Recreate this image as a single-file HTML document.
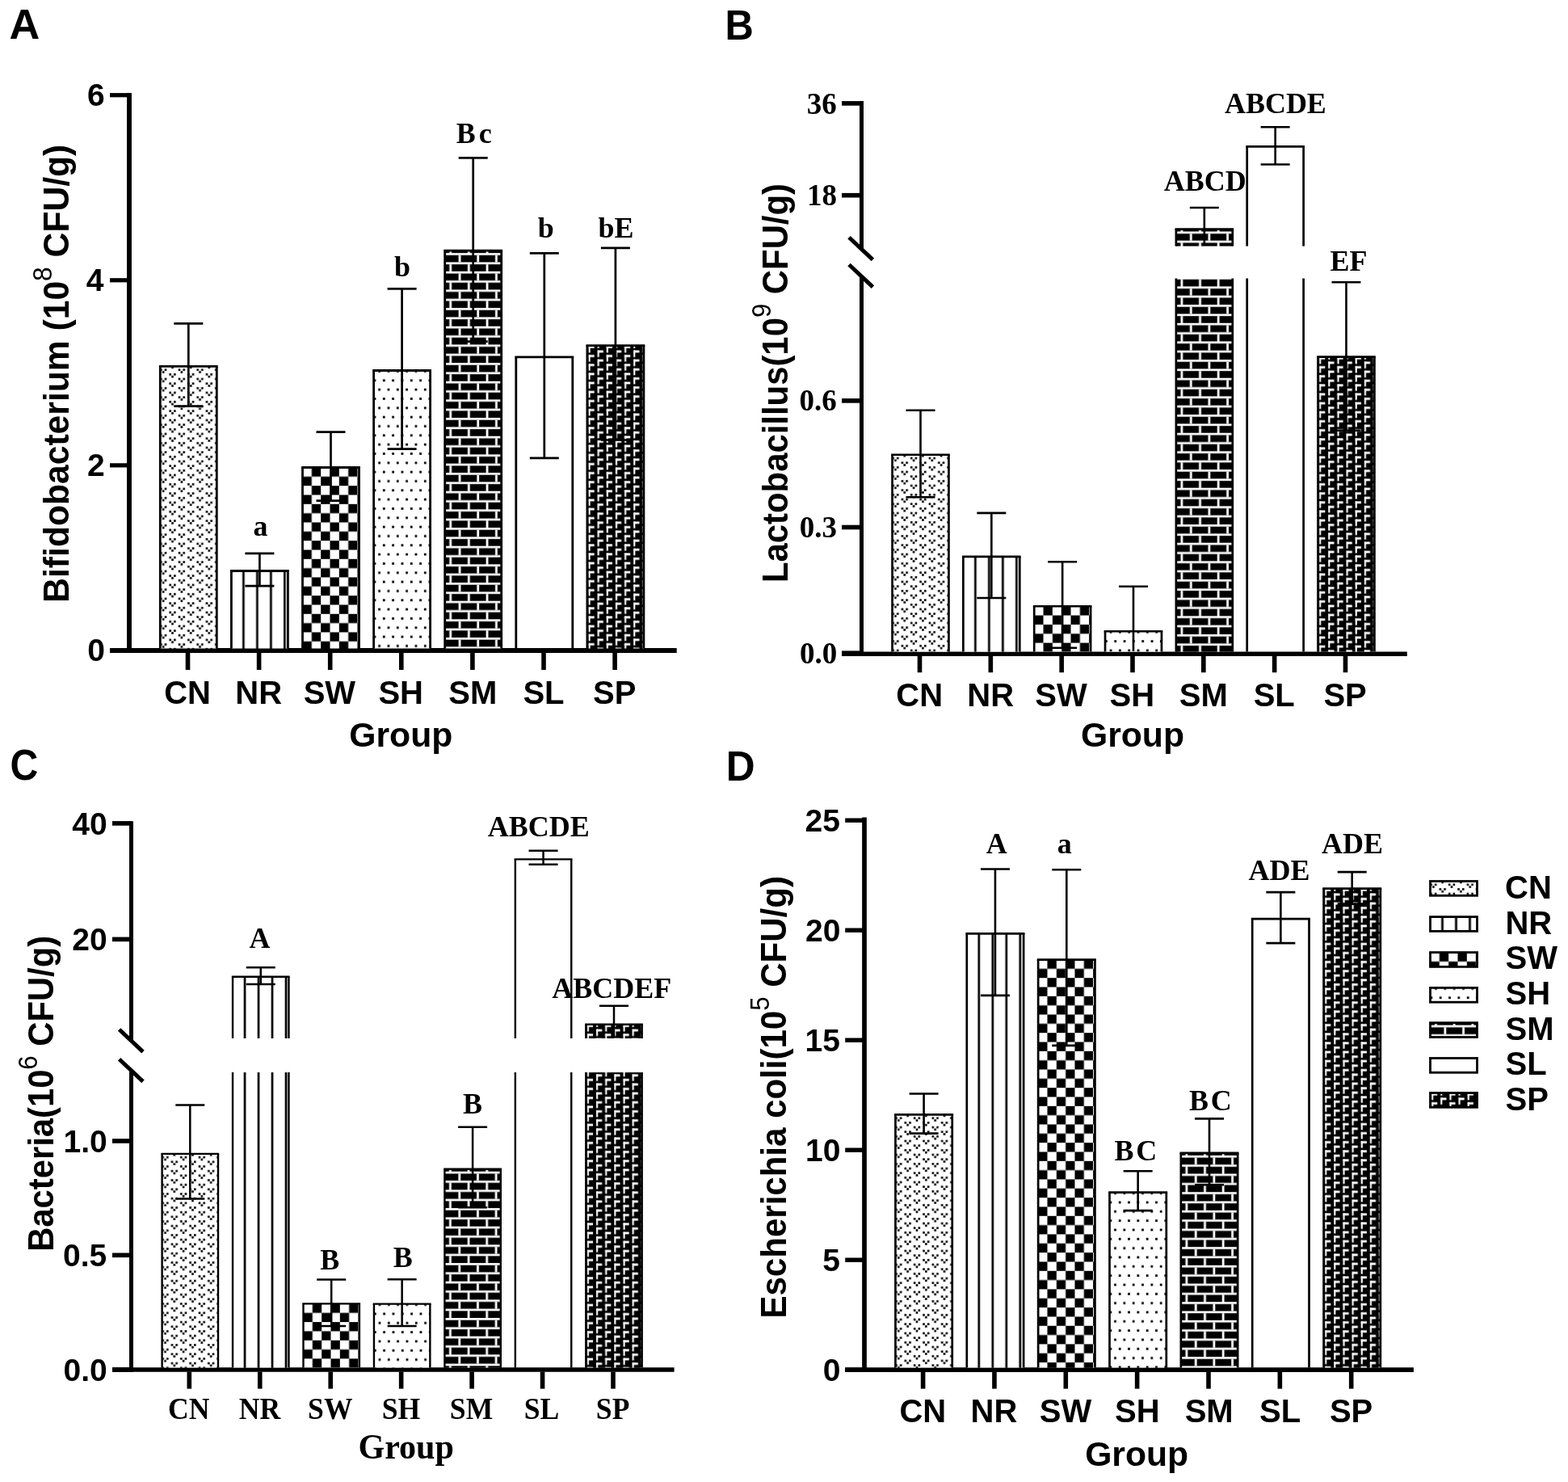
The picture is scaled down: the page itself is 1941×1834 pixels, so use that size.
<!DOCTYPE html><html><head><meta charset='utf-8'><title>Figure</title><style>html,body{margin:0;padding:0;background:#fff;}svg{display:block;}</style></head><body><svg width='1941' height='1834' viewBox='0 0 1941 1834'><defs><pattern id='pCN' patternUnits='userSpaceOnUse' width='22.66' height='11.33'><rect width='22.66' height='11.33' fill='#fff'/><rect x='2.6' y='5.8' width='2.6' height='2.6' fill='#000'/><rect x='-0.23' y='2.97' width='2.6' height='2.6' fill='#000'/><rect x='22.43' y='2.97' width='2.6' height='2.6' fill='#000'/><rect x='5.43' y='2.97' width='2.6' height='2.6' fill='#000'/><rect x='13.93' y='0.13' width='2.6' height='2.6' fill='#000'/><rect x='11.1' y='8.63' width='2.6' height='2.6' fill='#000'/><rect x='16.77' y='8.63' width='2.6' height='2.6' fill='#000'/></pattern><pattern id='pSH' patternUnits='userSpaceOnUse' width='11.33' height='22.66'><rect width='11.33' height='22.66' fill='#fff'/><rect x='5.6' y='-0.4' width='2.8' height='2.8' fill='#000'/><rect x='5.6' y='22.26' width='2.8' height='2.8' fill='#000'/><rect x='-0.07' y='10.93' width='2.8' height='2.8' fill='#000'/><rect x='11.27' y='10.93' width='2.8' height='2.8' fill='#000'/></pattern><pattern id='pSW' patternUnits='userSpaceOnUse' width='22.66' height='22.66'><rect width='22.66' height='22.66' fill='#fff'/><rect x='11.33' y='0' width='11.33' height='11.33' fill='#000'/><rect x='0' y='11.33' width='11.33' height='11.33' fill='#000'/></pattern><pattern id='pSM' patternUnits='userSpaceOnUse' width='22.66' height='22.66'><rect width='22.66' height='22.66' fill='#000'/><rect x='0' y='2.9' width='22.66' height='2.7' fill='#fff'/><rect x='0' y='14.23' width='22.66' height='2.7' fill='#fff'/><rect x='17' y='5.6' width='2.8' height='8.63' fill='#fff'/><rect x='5.6' y='-5.73' width='2.8' height='8.63' fill='#fff'/><rect x='5.6' y='16.93' width='2.8' height='8.63' fill='#fff'/></pattern><pattern id='pSP' patternUnits='userSpaceOnUse' width='22.3' height='11.15'><rect width='22.3' height='11.15' fill='#000'/><rect x='1.6' y='0.4' width='7.2' height='2.8' fill='#fff'/><rect x='1.6' y='0.4' width='2.1' height='8.4' fill='#fff'/><rect x='12.75' y='5.98' width='7.2' height='2.8' fill='#fff'/><rect x='12.75' y='-5.17' width='2.1' height='8.4' fill='#fff'/><rect x='12.75' y='5.98' width='2.1' height='8.4' fill='#fff'/></pattern><pattern id='pNR' patternUnits='userSpaceOnUse' width='17' height='20'><rect width='17' height='20' fill='#fff'/><rect x='13.65' y='0' width='2.7' height='20' fill='#000'/></pattern><pattern id='pNRt' patternUnits='userSpaceOnUse' width='17' height='20'><rect width='17' height='20' fill='#fff'/><rect x='13.9' y='0' width='2.2' height='20' fill='#000'/></pattern><pattern id='pNRl' patternUnits='userSpaceOnUse' width='17' height='20'><rect width='17' height='20' fill='#fff'/><rect x='13.6' y='0' width='2.8' height='20' fill='#000'/></pattern></defs><rect width='1941' height='1834' fill='#fff'/><line x1='160' y1='115.1' x2='160' y2='808' stroke='#000' stroke-width='5.9' stroke-linecap='butt'/>
<line x1='136' y1='804.9' x2='160' y2='804.9' stroke='#000' stroke-width='5.2' stroke-linecap='butt'/>
<line x1='136' y1='575.84' x2='160' y2='575.84' stroke='#000' stroke-width='5.2' stroke-linecap='butt'/>
<line x1='136' y1='346.78' x2='160' y2='346.78' stroke='#000' stroke-width='5.2' stroke-linecap='butt'/>
<line x1='136' y1='117.72' x2='160' y2='117.72' stroke='#000' stroke-width='5.2' stroke-linecap='butt'/>
<line x1='136' y1='805' x2='837.7' y2='805' stroke='#000' stroke-width='5.8' stroke-linecap='butt'/>
<g transform='translate(198.3,453.4)'><rect x='0' y='0' width='70' height='349.1' fill='url(#pCN)'/></g>
<line x1='198.3' y1='453.4' x2='198.3' y2='802.5' stroke='#000' stroke-width='2.8' stroke-linecap='butt'/>
<line x1='268.3' y1='453.4' x2='268.3' y2='802.5' stroke='#000' stroke-width='2.8' stroke-linecap='butt'/>
<line x1='196.9' y1='453.4' x2='269.7' y2='453.4' stroke='#000' stroke-width='2.8' stroke-linecap='butt'/>
<g transform='translate(286.4,706.5)'><rect x='0' y='0' width='70' height='96' fill='url(#pNR)'/></g>
<line x1='286.4' y1='706.5' x2='286.4' y2='802.5' stroke='#000' stroke-width='2.8' stroke-linecap='butt'/>
<line x1='356.4' y1='706.5' x2='356.4' y2='802.5' stroke='#000' stroke-width='2.8' stroke-linecap='butt'/>
<line x1='285' y1='706.5' x2='357.8' y2='706.5' stroke='#000' stroke-width='2.8' stroke-linecap='butt'/>
<g transform='translate(374.5,578.5)'><rect x='0' y='0' width='70' height='224' fill='url(#pSW)'/></g>
<line x1='374.5' y1='578.5' x2='374.5' y2='802.5' stroke='#000' stroke-width='2.8' stroke-linecap='butt'/>
<line x1='444.5' y1='578.5' x2='444.5' y2='802.5' stroke='#000' stroke-width='2.8' stroke-linecap='butt'/>
<line x1='373.1' y1='578.5' x2='445.9' y2='578.5' stroke='#000' stroke-width='2.8' stroke-linecap='butt'/>
<g transform='translate(462.6,458.5)'><rect x='0' y='0' width='70' height='344' fill='url(#pSH)'/></g>
<line x1='462.6' y1='458.5' x2='462.6' y2='802.5' stroke='#000' stroke-width='2.8' stroke-linecap='butt'/>
<line x1='532.6' y1='458.5' x2='532.6' y2='802.5' stroke='#000' stroke-width='2.8' stroke-linecap='butt'/>
<line x1='461.2' y1='458.5' x2='534' y2='458.5' stroke='#000' stroke-width='2.8' stroke-linecap='butt'/>
<g transform='translate(550.7,310.2)'><rect x='0' y='0' width='70' height='492.3' fill='url(#pSM)'/></g>
<line x1='550.7' y1='310.2' x2='550.7' y2='802.5' stroke='#000' stroke-width='2.8' stroke-linecap='butt'/>
<line x1='620.7' y1='310.2' x2='620.7' y2='802.5' stroke='#000' stroke-width='2.8' stroke-linecap='butt'/>
<line x1='549.3' y1='310.2' x2='622.1' y2='310.2' stroke='#000' stroke-width='2.8' stroke-linecap='butt'/>
<line x1='638.8' y1='441.8' x2='638.8' y2='802.5' stroke='#000' stroke-width='2.8' stroke-linecap='butt'/>
<line x1='708.8' y1='441.8' x2='708.8' y2='802.5' stroke='#000' stroke-width='2.8' stroke-linecap='butt'/>
<line x1='637.4' y1='441.8' x2='710.2' y2='441.8' stroke='#000' stroke-width='2.8' stroke-linecap='butt'/>
<g transform='translate(726.9,427.6)'><rect x='0' y='0' width='70' height='374.9' fill='url(#pSP)'/></g>
<line x1='726.9' y1='427.6' x2='726.9' y2='802.5' stroke='#000' stroke-width='2.8' stroke-linecap='butt'/>
<line x1='796.9' y1='427.6' x2='796.9' y2='802.5' stroke='#000' stroke-width='2.8' stroke-linecap='butt'/>
<line x1='725.5' y1='427.6' x2='798.3' y2='427.6' stroke='#000' stroke-width='2.8' stroke-linecap='butt'/>
<line x1='233.3' y1='400.4' x2='233.3' y2='502.7' stroke='#000' stroke-width='2.7' stroke-linecap='butt'/>
<line x1='215.3' y1='400.4' x2='251.3' y2='400.4' stroke='#000' stroke-width='2.7' stroke-linecap='butt'/>
<line x1='215.3' y1='502.7' x2='251.3' y2='502.7' stroke='#000' stroke-width='2.7' stroke-linecap='butt'/>
<line x1='321.4' y1='684.9' x2='321.4' y2='725.2' stroke='#000' stroke-width='2.7' stroke-linecap='butt'/>
<line x1='303.4' y1='684.9' x2='339.4' y2='684.9' stroke='#000' stroke-width='2.7' stroke-linecap='butt'/>
<line x1='303.4' y1='725.2' x2='339.4' y2='725.2' stroke='#000' stroke-width='2.7' stroke-linecap='butt'/>
<line x1='409.5' y1='534.6' x2='409.5' y2='619.7' stroke='#000' stroke-width='2.7' stroke-linecap='butt'/>
<line x1='391.5' y1='534.6' x2='427.5' y2='534.6' stroke='#000' stroke-width='2.7' stroke-linecap='butt'/>
<line x1='391.5' y1='619.7' x2='427.5' y2='619.7' stroke='#000' stroke-width='2.7' stroke-linecap='butt'/>
<line x1='497.6' y1='357.3' x2='497.6' y2='555.6' stroke='#000' stroke-width='2.7' stroke-linecap='butt'/>
<line x1='479.6' y1='357.3' x2='515.6' y2='357.3' stroke='#000' stroke-width='2.7' stroke-linecap='butt'/>
<line x1='479.6' y1='555.6' x2='515.6' y2='555.6' stroke='#000' stroke-width='2.7' stroke-linecap='butt'/>
<line x1='585.7' y1='195.4' x2='585.7' y2='422.7' stroke='#000' stroke-width='2.7' stroke-linecap='butt'/>
<line x1='567.7' y1='195.4' x2='603.7' y2='195.4' stroke='#000' stroke-width='2.7' stroke-linecap='butt'/>
<line x1='567.7' y1='422.7' x2='603.7' y2='422.7' stroke='#000' stroke-width='2.7' stroke-linecap='butt'/>
<line x1='673.8' y1='313.3' x2='673.8' y2='566.8' stroke='#000' stroke-width='2.7' stroke-linecap='butt'/>
<line x1='655.8' y1='313.3' x2='691.8' y2='313.3' stroke='#000' stroke-width='2.7' stroke-linecap='butt'/>
<line x1='655.8' y1='566.8' x2='691.8' y2='566.8' stroke='#000' stroke-width='2.7' stroke-linecap='butt'/>
<line x1='761.9' y1='306.9' x2='761.9' y2='544.5' stroke='#000' stroke-width='2.7' stroke-linecap='butt'/>
<line x1='743.9' y1='306.9' x2='779.9' y2='306.9' stroke='#000' stroke-width='2.7' stroke-linecap='butt'/>
<line x1='743.9' y1='544.5' x2='779.9' y2='544.5' stroke='#000' stroke-width='2.7' stroke-linecap='butt'/>
<line x1='232.5' y1='807' x2='232.5' y2='829' stroke='#000' stroke-width='5.6' stroke-linecap='butt'/>
<line x1='320.6' y1='807' x2='320.6' y2='829' stroke='#000' stroke-width='5.6' stroke-linecap='butt'/>
<line x1='408.7' y1='807' x2='408.7' y2='829' stroke='#000' stroke-width='5.6' stroke-linecap='butt'/>
<line x1='496.8' y1='807' x2='496.8' y2='829' stroke='#000' stroke-width='5.6' stroke-linecap='butt'/>
<line x1='584.9' y1='807' x2='584.9' y2='829' stroke='#000' stroke-width='5.6' stroke-linecap='butt'/>
<line x1='673' y1='807' x2='673' y2='829' stroke='#000' stroke-width='5.6' stroke-linecap='butt'/>
<line x1='761.1' y1='807' x2='761.1' y2='829' stroke='#000' stroke-width='5.6' stroke-linecap='butt'/>
<line x1='1066.5' y1='124.9' x2='1066.5' y2='307.6' stroke='#000' stroke-width='5' stroke-linecap='butt'/>
<line x1='1066.5' y1='341.3' x2='1066.5' y2='811.5' stroke='#000' stroke-width='5' stroke-linecap='butt'/>
<line x1='1042' y1='127.9' x2='1066.5' y2='127.9' stroke='#000' stroke-width='5.6' stroke-linecap='butt'/>
<line x1='1042' y1='241.7' x2='1066.5' y2='241.7' stroke='#000' stroke-width='5.6' stroke-linecap='butt'/>
<line x1='1042' y1='495.9' x2='1066.5' y2='495.9' stroke='#000' stroke-width='5.6' stroke-linecap='butt'/>
<line x1='1042' y1='652.5' x2='1066.5' y2='652.5' stroke='#000' stroke-width='5.6' stroke-linecap='butt'/>
<line x1='1042' y1='808.2' x2='1066.5' y2='808.2' stroke='#000' stroke-width='5.6' stroke-linecap='butt'/>
<line x1='1051' y1='293.8' x2='1080.4' y2='321.4' stroke='#000' stroke-width='5' stroke-linecap='butt'/>
<line x1='1051' y1='327.5' x2='1080.4' y2='355.1' stroke='#000' stroke-width='5' stroke-linecap='butt'/>
<line x1='1042' y1='809.2' x2='1741.8' y2='809.2' stroke='#000' stroke-width='5.6' stroke-linecap='butt'/>
<g transform='translate(1104.55,562.75)'><rect x='0' y='0' width='69.9' height='243.75' fill='url(#pCN)'/></g>
<line x1='1104.55' y1='562.75' x2='1104.55' y2='806.5' stroke='#000' stroke-width='2.7' stroke-linecap='butt'/>
<line x1='1174.45' y1='562.75' x2='1174.45' y2='806.5' stroke='#000' stroke-width='2.7' stroke-linecap='butt'/>
<line x1='1103.2' y1='562.75' x2='1175.8' y2='562.75' stroke='#000' stroke-width='2.7' stroke-linecap='butt'/>
<g transform='translate(1192.38,688.95)'><rect x='0' y='0' width='69.9' height='117.55' fill='url(#pNR)'/></g>
<line x1='1192.38' y1='688.95' x2='1192.38' y2='806.5' stroke='#000' stroke-width='2.7' stroke-linecap='butt'/>
<line x1='1262.28' y1='688.95' x2='1262.28' y2='806.5' stroke='#000' stroke-width='2.7' stroke-linecap='butt'/>
<line x1='1191.03' y1='688.95' x2='1263.63' y2='688.95' stroke='#000' stroke-width='2.7' stroke-linecap='butt'/>
<g transform='translate(1280.21,750.25)'><rect x='0' y='0' width='69.9' height='56.25' fill='url(#pSW)'/></g>
<line x1='1280.21' y1='750.25' x2='1280.21' y2='806.5' stroke='#000' stroke-width='2.7' stroke-linecap='butt'/>
<line x1='1350.11' y1='750.25' x2='1350.11' y2='806.5' stroke='#000' stroke-width='2.7' stroke-linecap='butt'/>
<line x1='1278.86' y1='750.25' x2='1351.46' y2='750.25' stroke='#000' stroke-width='2.7' stroke-linecap='butt'/>
<g transform='translate(1368.04,781.25)'><rect x='0' y='0' width='69.9' height='25.25' fill='url(#pSH)'/></g>
<line x1='1368.04' y1='781.25' x2='1368.04' y2='806.5' stroke='#000' stroke-width='2.7' stroke-linecap='butt'/>
<line x1='1437.94' y1='781.25' x2='1437.94' y2='806.5' stroke='#000' stroke-width='2.7' stroke-linecap='butt'/>
<line x1='1366.69' y1='781.25' x2='1439.29' y2='781.25' stroke='#000' stroke-width='2.7' stroke-linecap='butt'/>
<g transform='translate(1455.87,283.55)'><rect x='0' y='0' width='69.9' height='21.05' fill='url(#pSM)'/></g>
<line x1='1455.87' y1='283.55' x2='1455.87' y2='304.6' stroke='#000' stroke-width='2.7' stroke-linecap='butt'/>
<line x1='1525.77' y1='283.55' x2='1525.77' y2='304.6' stroke='#000' stroke-width='2.7' stroke-linecap='butt'/>
<line x1='1454.52' y1='283.55' x2='1527.12' y2='283.55' stroke='#000' stroke-width='2.7' stroke-linecap='butt'/>
<g transform='translate(1455.87,283.55)'><rect x='0' y='60.85' width='69.9' height='462.1' fill='url(#pSM)'/></g>
<line x1='1455.87' y1='344.4' x2='1455.87' y2='806.5' stroke='#000' stroke-width='2.7' stroke-linecap='butt'/>
<line x1='1525.77' y1='344.4' x2='1525.77' y2='806.5' stroke='#000' stroke-width='2.7' stroke-linecap='butt'/>
<line x1='1543.7' y1='181.45' x2='1543.7' y2='304.6' stroke='#000' stroke-width='2.7' stroke-linecap='butt'/>
<line x1='1613.6' y1='181.45' x2='1613.6' y2='304.6' stroke='#000' stroke-width='2.7' stroke-linecap='butt'/>
<line x1='1542.35' y1='181.45' x2='1614.95' y2='181.45' stroke='#000' stroke-width='2.7' stroke-linecap='butt'/>
<line x1='1543.7' y1='344.4' x2='1543.7' y2='806.5' stroke='#000' stroke-width='2.7' stroke-linecap='butt'/>
<line x1='1613.6' y1='344.4' x2='1613.6' y2='806.5' stroke='#000' stroke-width='2.7' stroke-linecap='butt'/>
<g transform='translate(1631.53,441.55)'><rect x='0' y='0' width='69.9' height='364.95' fill='url(#pSP)'/></g>
<line x1='1631.53' y1='441.55' x2='1631.53' y2='806.5' stroke='#000' stroke-width='2.7' stroke-linecap='butt'/>
<line x1='1701.43' y1='441.55' x2='1701.43' y2='806.5' stroke='#000' stroke-width='2.7' stroke-linecap='butt'/>
<line x1='1630.18' y1='441.55' x2='1702.78' y2='441.55' stroke='#000' stroke-width='2.7' stroke-linecap='butt'/>
<line x1='1139.5' y1='507.7' x2='1139.5' y2='615.2' stroke='#000' stroke-width='2.6' stroke-linecap='butt'/>
<line x1='1121.5' y1='507.7' x2='1157.5' y2='507.7' stroke='#000' stroke-width='2.6' stroke-linecap='butt'/>
<line x1='1121.5' y1='615.2' x2='1157.5' y2='615.2' stroke='#000' stroke-width='2.6' stroke-linecap='butt'/>
<line x1='1227.33' y1='634.9' x2='1227.33' y2='740' stroke='#000' stroke-width='2.6' stroke-linecap='butt'/>
<line x1='1209.33' y1='634.9' x2='1245.33' y2='634.9' stroke='#000' stroke-width='2.6' stroke-linecap='butt'/>
<line x1='1209.33' y1='740' x2='1245.33' y2='740' stroke='#000' stroke-width='2.6' stroke-linecap='butt'/>
<line x1='1315.16' y1='695.3' x2='1315.16' y2='801.7' stroke='#000' stroke-width='2.6' stroke-linecap='butt'/>
<line x1='1297.16' y1='695.3' x2='1333.16' y2='695.3' stroke='#000' stroke-width='2.6' stroke-linecap='butt'/>
<line x1='1297.16' y1='801.7' x2='1333.16' y2='801.7' stroke='#000' stroke-width='2.6' stroke-linecap='butt'/>
<line x1='1402.99' y1='725.8' x2='1402.99' y2='806' stroke='#000' stroke-width='2.6' stroke-linecap='butt'/>
<line x1='1384.99' y1='725.8' x2='1420.99' y2='725.8' stroke='#000' stroke-width='2.6' stroke-linecap='butt'/>
<line x1='1490.82' y1='257' x2='1490.82' y2='302.6' stroke='#000' stroke-width='2.6' stroke-linecap='butt'/>
<line x1='1472.82' y1='257' x2='1508.82' y2='257' stroke='#000' stroke-width='2.6' stroke-linecap='butt'/>
<line x1='1578.65' y1='157.3' x2='1578.65' y2='203.5' stroke='#000' stroke-width='2.6' stroke-linecap='butt'/>
<line x1='1560.65' y1='157.3' x2='1596.65' y2='157.3' stroke='#000' stroke-width='2.6' stroke-linecap='butt'/>
<line x1='1560.65' y1='203.5' x2='1596.65' y2='203.5' stroke='#000' stroke-width='2.6' stroke-linecap='butt'/>
<line x1='1666.48' y1='349.3' x2='1666.48' y2='532.7' stroke='#000' stroke-width='2.6' stroke-linecap='butt'/>
<line x1='1648.48' y1='349.3' x2='1684.48' y2='349.3' stroke='#000' stroke-width='2.6' stroke-linecap='butt'/>
<line x1='1648.48' y1='532.7' x2='1684.48' y2='532.7' stroke='#000' stroke-width='2.6' stroke-linecap='butt'/>
<line x1='1138.5' y1='811.5' x2='1138.5' y2='832.2' stroke='#000' stroke-width='5.6' stroke-linecap='butt'/>
<line x1='1226.33' y1='811.5' x2='1226.33' y2='832.2' stroke='#000' stroke-width='5.6' stroke-linecap='butt'/>
<line x1='1314.16' y1='811.5' x2='1314.16' y2='832.2' stroke='#000' stroke-width='5.6' stroke-linecap='butt'/>
<line x1='1401.99' y1='811.5' x2='1401.99' y2='832.2' stroke='#000' stroke-width='5.6' stroke-linecap='butt'/>
<line x1='1489.82' y1='811.5' x2='1489.82' y2='832.2' stroke='#000' stroke-width='5.6' stroke-linecap='butt'/>
<line x1='1577.65' y1='811.5' x2='1577.65' y2='832.2' stroke='#000' stroke-width='5.6' stroke-linecap='butt'/>
<line x1='1665.48' y1='811.5' x2='1665.48' y2='832.2' stroke='#000' stroke-width='5.6' stroke-linecap='butt'/>
<line x1='162.5' y1='1016.2' x2='162.5' y2='1287.8' stroke='#000' stroke-width='5' stroke-linecap='butt'/>
<line x1='162.5' y1='1324.6' x2='162.5' y2='1698' stroke='#000' stroke-width='5' stroke-linecap='butt'/>
<line x1='139' y1='1018.9' x2='162.5' y2='1018.9' stroke='#000' stroke-width='5.6' stroke-linecap='butt'/>
<line x1='139' y1='1162.4' x2='162.5' y2='1162.4' stroke='#000' stroke-width='5.6' stroke-linecap='butt'/>
<line x1='139' y1='1412' x2='162.5' y2='1412' stroke='#000' stroke-width='5.6' stroke-linecap='butt'/>
<line x1='139' y1='1553.3' x2='162.5' y2='1553.3' stroke='#000' stroke-width='5.6' stroke-linecap='butt'/>
<line x1='139' y1='1695' x2='162.5' y2='1695' stroke='#000' stroke-width='5.6' stroke-linecap='butt'/>
<line x1='147.6' y1='1274' x2='177' y2='1301.6' stroke='#000' stroke-width='5' stroke-linecap='butt'/>
<line x1='147.6' y1='1310.8' x2='177' y2='1338.4' stroke='#000' stroke-width='5' stroke-linecap='butt'/>
<line x1='139.3' y1='1695' x2='834.6' y2='1695' stroke='#000' stroke-width='5.7' stroke-linecap='butt'/>
<g transform='translate(200.6,1427.9)'><rect x='0' y='0' width='69.4' height='264.6' fill='url(#pCN)'/></g>
<line x1='200.6' y1='1427.9' x2='200.6' y2='1692.5' stroke='#000' stroke-width='2.4' stroke-linecap='butt'/>
<line x1='270' y1='1427.9' x2='270' y2='1692.5' stroke='#000' stroke-width='2.4' stroke-linecap='butt'/>
<line x1='199.4' y1='1427.9' x2='271.2' y2='1427.9' stroke='#000' stroke-width='2.4' stroke-linecap='butt'/>
<g transform='translate(288.05,1208.8)'><rect x='0' y='0' width='69.4' height='76.2' fill='url(#pNR)'/></g>
<line x1='288.05' y1='1208.8' x2='288.05' y2='1285' stroke='#000' stroke-width='2.4' stroke-linecap='butt'/>
<line x1='357.45' y1='1208.8' x2='357.45' y2='1285' stroke='#000' stroke-width='2.4' stroke-linecap='butt'/>
<line x1='286.85' y1='1208.8' x2='358.65' y2='1208.8' stroke='#000' stroke-width='2.4' stroke-linecap='butt'/>
<g transform='translate(288.05,1208.8)'><rect x='0' y='118.3' width='69.4' height='365.4' fill='url(#pNR)'/></g>
<line x1='288.05' y1='1327.1' x2='288.05' y2='1692.5' stroke='#000' stroke-width='2.4' stroke-linecap='butt'/>
<line x1='357.45' y1='1327.1' x2='357.45' y2='1692.5' stroke='#000' stroke-width='2.4' stroke-linecap='butt'/>
<g transform='translate(375.5,1613.4)'><rect x='0' y='0' width='69.4' height='79.1' fill='url(#pSW)'/></g>
<line x1='375.5' y1='1613.4' x2='375.5' y2='1692.5' stroke='#000' stroke-width='2.4' stroke-linecap='butt'/>
<line x1='444.9' y1='1613.4' x2='444.9' y2='1692.5' stroke='#000' stroke-width='2.4' stroke-linecap='butt'/>
<line x1='374.3' y1='1613.4' x2='446.1' y2='1613.4' stroke='#000' stroke-width='2.4' stroke-linecap='butt'/>
<g transform='translate(462.95,1613.6)'><rect x='0' y='0' width='69.4' height='78.9' fill='url(#pSH)'/></g>
<line x1='462.95' y1='1613.6' x2='462.95' y2='1692.5' stroke='#000' stroke-width='2.4' stroke-linecap='butt'/>
<line x1='532.35' y1='1613.6' x2='532.35' y2='1692.5' stroke='#000' stroke-width='2.4' stroke-linecap='butt'/>
<line x1='461.75' y1='1613.6' x2='533.55' y2='1613.6' stroke='#000' stroke-width='2.4' stroke-linecap='butt'/>
<g transform='translate(550.4,1446.8)'><rect x='0' y='0' width='69.4' height='245.7' fill='url(#pSM)'/></g>
<line x1='550.4' y1='1446.8' x2='550.4' y2='1692.5' stroke='#000' stroke-width='2.4' stroke-linecap='butt'/>
<line x1='619.8' y1='1446.8' x2='619.8' y2='1692.5' stroke='#000' stroke-width='2.4' stroke-linecap='butt'/>
<line x1='549.2' y1='1446.8' x2='621' y2='1446.8' stroke='#000' stroke-width='2.4' stroke-linecap='butt'/>
<line x1='637.85' y1='1063.4' x2='637.85' y2='1285' stroke='#000' stroke-width='2.4' stroke-linecap='butt'/>
<line x1='707.25' y1='1063.4' x2='707.25' y2='1285' stroke='#000' stroke-width='2.4' stroke-linecap='butt'/>
<line x1='636.65' y1='1063.4' x2='708.45' y2='1063.4' stroke='#000' stroke-width='2.4' stroke-linecap='butt'/>
<line x1='637.85' y1='1327.1' x2='637.85' y2='1692.5' stroke='#000' stroke-width='2.4' stroke-linecap='butt'/>
<line x1='707.25' y1='1327.1' x2='707.25' y2='1692.5' stroke='#000' stroke-width='2.4' stroke-linecap='butt'/>
<g transform='translate(725.3,1267.7)'><rect x='0' y='0' width='69.4' height='17.3' fill='url(#pSP)'/></g>
<line x1='725.3' y1='1267.7' x2='725.3' y2='1285' stroke='#000' stroke-width='2.4' stroke-linecap='butt'/>
<line x1='794.7' y1='1267.7' x2='794.7' y2='1285' stroke='#000' stroke-width='2.4' stroke-linecap='butt'/>
<line x1='724.1' y1='1267.7' x2='795.9' y2='1267.7' stroke='#000' stroke-width='2.4' stroke-linecap='butt'/>
<g transform='translate(725.3,1267.7)'><rect x='0' y='59.4' width='69.4' height='365.4' fill='url(#pSP)'/></g>
<line x1='725.3' y1='1327.1' x2='725.3' y2='1692.5' stroke='#000' stroke-width='2.4' stroke-linecap='butt'/>
<line x1='794.7' y1='1327.1' x2='794.7' y2='1692.5' stroke='#000' stroke-width='2.4' stroke-linecap='butt'/>
<line x1='235.3' y1='1367.4' x2='235.3' y2='1483.6' stroke='#000' stroke-width='2.5' stroke-linecap='butt'/>
<line x1='217.3' y1='1367.4' x2='253.3' y2='1367.4' stroke='#000' stroke-width='2.5' stroke-linecap='butt'/>
<line x1='217.3' y1='1483.6' x2='253.3' y2='1483.6' stroke='#000' stroke-width='2.5' stroke-linecap='butt'/>
<line x1='322.75' y1='1197.2' x2='322.75' y2='1218' stroke='#000' stroke-width='2.5' stroke-linecap='butt'/>
<line x1='304.75' y1='1197.2' x2='340.75' y2='1197.2' stroke='#000' stroke-width='2.5' stroke-linecap='butt'/>
<line x1='304.75' y1='1218' x2='340.75' y2='1218' stroke='#000' stroke-width='2.5' stroke-linecap='butt'/>
<line x1='410.2' y1='1583.4' x2='410.2' y2='1641' stroke='#000' stroke-width='2.5' stroke-linecap='butt'/>
<line x1='392.2' y1='1583.4' x2='428.2' y2='1583.4' stroke='#000' stroke-width='2.5' stroke-linecap='butt'/>
<line x1='392.2' y1='1641' x2='428.2' y2='1641' stroke='#000' stroke-width='2.5' stroke-linecap='butt'/>
<line x1='497.65' y1='1583.2' x2='497.65' y2='1640.9' stroke='#000' stroke-width='2.5' stroke-linecap='butt'/>
<line x1='479.65' y1='1583.2' x2='515.65' y2='1583.2' stroke='#000' stroke-width='2.5' stroke-linecap='butt'/>
<line x1='479.65' y1='1640.9' x2='515.65' y2='1640.9' stroke='#000' stroke-width='2.5' stroke-linecap='butt'/>
<line x1='585.1' y1='1394.7' x2='585.1' y2='1494.3' stroke='#000' stroke-width='2.5' stroke-linecap='butt'/>
<line x1='567.1' y1='1394.7' x2='603.1' y2='1394.7' stroke='#000' stroke-width='2.5' stroke-linecap='butt'/>
<line x1='567.1' y1='1494.3' x2='603.1' y2='1494.3' stroke='#000' stroke-width='2.5' stroke-linecap='butt'/>
<line x1='672.55' y1='1052.8' x2='672.55' y2='1069.8' stroke='#000' stroke-width='2.5' stroke-linecap='butt'/>
<line x1='654.55' y1='1052.8' x2='690.55' y2='1052.8' stroke='#000' stroke-width='2.5' stroke-linecap='butt'/>
<line x1='654.55' y1='1069.8' x2='690.55' y2='1069.8' stroke='#000' stroke-width='2.5' stroke-linecap='butt'/>
<line x1='760' y1='1244.7' x2='760' y2='1284' stroke='#000' stroke-width='2.5' stroke-linecap='butt'/>
<line x1='742' y1='1244.7' x2='778' y2='1244.7' stroke='#000' stroke-width='2.5' stroke-linecap='butt'/>
<line x1='234.3' y1='1697.5' x2='234.3' y2='1718.6' stroke='#000' stroke-width='5.6' stroke-linecap='butt'/>
<line x1='321.75' y1='1697.5' x2='321.75' y2='1718.6' stroke='#000' stroke-width='5.6' stroke-linecap='butt'/>
<line x1='409.2' y1='1697.5' x2='409.2' y2='1718.6' stroke='#000' stroke-width='5.6' stroke-linecap='butt'/>
<line x1='496.65' y1='1697.5' x2='496.65' y2='1718.6' stroke='#000' stroke-width='5.6' stroke-linecap='butt'/>
<line x1='584.1' y1='1697.5' x2='584.1' y2='1718.6' stroke='#000' stroke-width='5.6' stroke-linecap='butt'/>
<line x1='671.55' y1='1697.5' x2='671.55' y2='1718.6' stroke='#000' stroke-width='5.6' stroke-linecap='butt'/>
<line x1='759' y1='1697.5' x2='759' y2='1718.6' stroke='#000' stroke-width='5.6' stroke-linecap='butt'/>
<line x1='1070' y1='1011.6' x2='1070' y2='1698' stroke='#000' stroke-width='5.7' stroke-linecap='butt'/>
<line x1='1046.2' y1='1695.2' x2='1070' y2='1695.2' stroke='#000' stroke-width='5.4' stroke-linecap='butt'/>
<line x1='1046.2' y1='1559.2' x2='1070' y2='1559.2' stroke='#000' stroke-width='5.4' stroke-linecap='butt'/>
<line x1='1046.2' y1='1423.2' x2='1070' y2='1423.2' stroke='#000' stroke-width='5.4' stroke-linecap='butt'/>
<line x1='1046.2' y1='1287.2' x2='1070' y2='1287.2' stroke='#000' stroke-width='5.4' stroke-linecap='butt'/>
<line x1='1046.2' y1='1151.2' x2='1070' y2='1151.2' stroke='#000' stroke-width='5.4' stroke-linecap='butt'/>
<line x1='1046.2' y1='1015.2' x2='1070' y2='1015.2' stroke='#000' stroke-width='5.4' stroke-linecap='butt'/>
<line x1='1046.1' y1='1695.2' x2='1749.9' y2='1695.2' stroke='#000' stroke-width='5.7' stroke-linecap='butt'/>
<g transform='translate(1108.45,1379.45)'><rect x='0' y='0' width='70.3' height='313.05' fill='url(#pCN)'/></g>
<line x1='1108.45' y1='1379.45' x2='1108.45' y2='1692.5' stroke='#000' stroke-width='2.7' stroke-linecap='butt'/>
<line x1='1178.75' y1='1379.45' x2='1178.75' y2='1692.5' stroke='#000' stroke-width='2.7' stroke-linecap='butt'/>
<line x1='1107.1' y1='1379.45' x2='1180.1' y2='1379.45' stroke='#000' stroke-width='2.7' stroke-linecap='butt'/>
<g transform='translate(1196.8,1155.35)'><rect x='0' y='0' width='70.3' height='537.15' fill='url(#pNR)'/></g>
<line x1='1196.8' y1='1155.35' x2='1196.8' y2='1692.5' stroke='#000' stroke-width='2.7' stroke-linecap='butt'/>
<line x1='1267.1' y1='1155.35' x2='1267.1' y2='1692.5' stroke='#000' stroke-width='2.7' stroke-linecap='butt'/>
<line x1='1195.45' y1='1155.35' x2='1268.45' y2='1155.35' stroke='#000' stroke-width='2.7' stroke-linecap='butt'/>
<g transform='translate(1285.15,1187.55)'><rect x='0' y='0' width='70.3' height='504.95' fill='url(#pSW)'/></g>
<line x1='1285.15' y1='1187.55' x2='1285.15' y2='1692.5' stroke='#000' stroke-width='2.7' stroke-linecap='butt'/>
<line x1='1355.45' y1='1187.55' x2='1355.45' y2='1692.5' stroke='#000' stroke-width='2.7' stroke-linecap='butt'/>
<line x1='1283.8' y1='1187.55' x2='1356.8' y2='1187.55' stroke='#000' stroke-width='2.7' stroke-linecap='butt'/>
<g transform='translate(1373.5,1475.65)'><rect x='0' y='0' width='70.3' height='216.85' fill='url(#pSH)'/></g>
<line x1='1373.5' y1='1475.65' x2='1373.5' y2='1692.5' stroke='#000' stroke-width='2.7' stroke-linecap='butt'/>
<line x1='1443.8' y1='1475.65' x2='1443.8' y2='1692.5' stroke='#000' stroke-width='2.7' stroke-linecap='butt'/>
<line x1='1372.15' y1='1475.65' x2='1445.15' y2='1475.65' stroke='#000' stroke-width='2.7' stroke-linecap='butt'/>
<g transform='translate(1461.85,1426.95)'><rect x='0' y='0' width='70.3' height='265.55' fill='url(#pSM)'/></g>
<line x1='1461.85' y1='1426.95' x2='1461.85' y2='1692.5' stroke='#000' stroke-width='2.7' stroke-linecap='butt'/>
<line x1='1532.15' y1='1426.95' x2='1532.15' y2='1692.5' stroke='#000' stroke-width='2.7' stroke-linecap='butt'/>
<line x1='1460.5' y1='1426.95' x2='1533.5' y2='1426.95' stroke='#000' stroke-width='2.7' stroke-linecap='butt'/>
<line x1='1550.2' y1='1137.15' x2='1550.2' y2='1692.5' stroke='#000' stroke-width='2.7' stroke-linecap='butt'/>
<line x1='1620.5' y1='1137.15' x2='1620.5' y2='1692.5' stroke='#000' stroke-width='2.7' stroke-linecap='butt'/>
<line x1='1548.85' y1='1137.15' x2='1621.85' y2='1137.15' stroke='#000' stroke-width='2.7' stroke-linecap='butt'/>
<g transform='translate(1638.55,1099.55)'><rect x='0' y='0' width='70.3' height='592.95' fill='url(#pSP)'/></g>
<line x1='1638.55' y1='1099.55' x2='1638.55' y2='1692.5' stroke='#000' stroke-width='2.7' stroke-linecap='butt'/>
<line x1='1708.85' y1='1099.55' x2='1708.85' y2='1692.5' stroke='#000' stroke-width='2.7' stroke-linecap='butt'/>
<line x1='1637.2' y1='1099.55' x2='1710.2' y2='1099.55' stroke='#000' stroke-width='2.7' stroke-linecap='butt'/>
<line x1='1143.6' y1='1353.5' x2='1143.6' y2='1402.6' stroke='#000' stroke-width='2.6' stroke-linecap='butt'/>
<line x1='1125.6' y1='1353.5' x2='1161.6' y2='1353.5' stroke='#000' stroke-width='2.6' stroke-linecap='butt'/>
<line x1='1125.6' y1='1402.6' x2='1161.6' y2='1402.6' stroke='#000' stroke-width='2.6' stroke-linecap='butt'/>
<line x1='1231.95' y1='1075.5' x2='1231.95' y2='1231.9' stroke='#000' stroke-width='2.6' stroke-linecap='butt'/>
<line x1='1213.95' y1='1075.5' x2='1249.95' y2='1075.5' stroke='#000' stroke-width='2.6' stroke-linecap='butt'/>
<line x1='1213.95' y1='1231.9' x2='1249.95' y2='1231.9' stroke='#000' stroke-width='2.6' stroke-linecap='butt'/>
<line x1='1320.3' y1='1076.3' x2='1320.3' y2='1293.9' stroke='#000' stroke-width='2.6' stroke-linecap='butt'/>
<line x1='1302.3' y1='1076.3' x2='1338.3' y2='1076.3' stroke='#000' stroke-width='2.6' stroke-linecap='butt'/>
<line x1='1302.3' y1='1293.9' x2='1338.3' y2='1293.9' stroke='#000' stroke-width='2.6' stroke-linecap='butt'/>
<line x1='1408.65' y1='1449.2' x2='1408.65' y2='1498.1' stroke='#000' stroke-width='2.6' stroke-linecap='butt'/>
<line x1='1390.65' y1='1449.2' x2='1426.65' y2='1449.2' stroke='#000' stroke-width='2.6' stroke-linecap='butt'/>
<line x1='1390.65' y1='1498.1' x2='1426.65' y2='1498.1' stroke='#000' stroke-width='2.6' stroke-linecap='butt'/>
<line x1='1497' y1='1384.4' x2='1497' y2='1466.2' stroke='#000' stroke-width='2.6' stroke-linecap='butt'/>
<line x1='1479' y1='1384.4' x2='1515' y2='1384.4' stroke='#000' stroke-width='2.6' stroke-linecap='butt'/>
<line x1='1479' y1='1466.2' x2='1515' y2='1466.2' stroke='#000' stroke-width='2.6' stroke-linecap='butt'/>
<line x1='1585.35' y1='1104.1' x2='1585.35' y2='1167.1' stroke='#000' stroke-width='2.6' stroke-linecap='butt'/>
<line x1='1567.35' y1='1104.1' x2='1603.35' y2='1104.1' stroke='#000' stroke-width='2.6' stroke-linecap='butt'/>
<line x1='1567.35' y1='1167.1' x2='1603.35' y2='1167.1' stroke='#000' stroke-width='2.6' stroke-linecap='butt'/>
<line x1='1673.7' y1='1079.1' x2='1673.7' y2='1118.6' stroke='#000' stroke-width='2.6' stroke-linecap='butt'/>
<line x1='1655.7' y1='1079.1' x2='1691.7' y2='1079.1' stroke='#000' stroke-width='2.6' stroke-linecap='butt'/>
<line x1='1655.7' y1='1118.6' x2='1691.7' y2='1118.6' stroke='#000' stroke-width='2.6' stroke-linecap='butt'/>
<line x1='1142.6' y1='1697.5' x2='1142.6' y2='1718.6' stroke='#000' stroke-width='5.6' stroke-linecap='butt'/>
<line x1='1230.95' y1='1697.5' x2='1230.95' y2='1718.6' stroke='#000' stroke-width='5.6' stroke-linecap='butt'/>
<line x1='1319.3' y1='1697.5' x2='1319.3' y2='1718.6' stroke='#000' stroke-width='5.6' stroke-linecap='butt'/>
<line x1='1407.65' y1='1697.5' x2='1407.65' y2='1718.6' stroke='#000' stroke-width='5.6' stroke-linecap='butt'/>
<line x1='1496' y1='1697.5' x2='1496' y2='1718.6' stroke='#000' stroke-width='5.6' stroke-linecap='butt'/>
<line x1='1584.35' y1='1697.5' x2='1584.35' y2='1718.6' stroke='#000' stroke-width='5.6' stroke-linecap='butt'/>
<line x1='1672.7' y1='1697.5' x2='1672.7' y2='1718.6' stroke='#000' stroke-width='5.6' stroke-linecap='butt'/>
<g transform='translate(1770.5,1090.5)'><rect x='0' y='0' width='58' height='17.8' fill='url(#pCN)'/></g>
<rect x='1770.5' y='1090.5' width='58' height='17.8' fill='none' stroke='#000' stroke-width='2.8'/>
<g transform='translate(1770.5,1134.6)'><rect x='0' y='0' width='58' height='17.8' fill='url(#pNRl)'/></g>
<rect x='1770.5' y='1134.6' width='58' height='17.8' fill='none' stroke='#000' stroke-width='2.8'/>
<g transform='translate(1770.5,1178.6)'><rect x='0' y='0' width='58' height='17.8' fill='url(#pSW)'/></g>
<rect x='1770.5' y='1178.6' width='58' height='17.8' fill='none' stroke='#000' stroke-width='2.8'/>
<g transform='translate(1770.5,1222.4)'><rect x='0' y='0' width='58' height='17.8' fill='url(#pSH)'/></g>
<rect x='1770.5' y='1222.4' width='58' height='17.8' fill='none' stroke='#000' stroke-width='2.8'/>
<g transform='translate(1770.5,1265.7)'><rect x='0' y='0' width='58' height='17.8' fill='url(#pSM)'/></g>
<rect x='1770.5' y='1265.7' width='58' height='17.8' fill='none' stroke='#000' stroke-width='2.8'/>
<rect x='1770.5' y='1309.5' width='58' height='17.8' fill='none' stroke='#000' stroke-width='2.8'/>
<g transform='translate(1770.5,1352.5)'><rect x='0' y='0' width='58' height='17.8' fill='url(#pSP)'/></g>
<rect x='1770.5' y='1352.5' width='58' height='17.8' fill='none' stroke='#000' stroke-width='2.8'/>
<text transform='translate(11.54,48.2) scale(1.0057,1.0042)' font-family="'Liberation Sans', Arial, sans-serif" font-weight='700' font-size='52'>A</text>
<text transform='translate(108.3,818.4)' font-family="'Liberation Sans', Arial, sans-serif" font-weight='700' font-size='39'>0</text>
<text transform='translate(108.05,589.46)' font-family="'Liberation Sans', Arial, sans-serif" font-weight='700' font-size='39'>2</text>
<text transform='translate(106.8,360.15)' font-family="'Liberation Sans', Arial, sans-serif" font-weight='700' font-size='39'>4</text>
<text transform='translate(108.05,131.22)' font-family="'Liberation Sans', Arial, sans-serif" font-weight='700' font-size='39'>6</text>
<text transform='translate(203.18,871)' font-family="'Liberation Sans', Arial, sans-serif" font-weight='700' font-size='40'>CN</text>
<text transform='translate(291.35,871)' font-family="'Liberation Sans', Arial, sans-serif" font-weight='700' font-size='40'>NR</text>
<text transform='translate(375.65,871)' font-family="'Liberation Sans', Arial, sans-serif" font-weight='700' font-size='40'>SW</text>
<text transform='translate(468.38,871)' font-family="'Liberation Sans', Arial, sans-serif" font-weight='700' font-size='40'>SH</text>
<text transform='translate(555.35,871)' font-family="'Liberation Sans', Arial, sans-serif" font-weight='700' font-size='40'>SM</text>
<text transform='translate(647.38,871)' font-family="'Liberation Sans', Arial, sans-serif" font-weight='700' font-size='40'>SL</text>
<text transform='translate(733.98,871)' font-family="'Liberation Sans', Arial, sans-serif" font-weight='700' font-size='40'>SP</text>
<text transform='translate(432.25,924.25)' font-family="'Liberation Sans', Arial, sans-serif" font-weight='700' font-size='42.7'>Group</text>
<text transform='translate(313.58,663.1) scale(1,0.9700)' font-family="'Liberation Serif', 'Times New Roman', serif" font-weight='700' font-size='36'>a</text>
<text transform='translate(488.1,342.2) scale(1,0.9700)' font-family="'Liberation Serif', 'Times New Roman', serif" font-weight='700' font-size='36'>b</text>
<text transform='translate(564.85,176.9) scale(1,0.9700)' font-family="'Liberation Serif', 'Times New Roman', serif" font-weight='700' font-size='36'>B<tspan dx='4'>c</tspan></text>
<text transform='translate(665.75,294.1) scale(1,0.9700)' font-family="'Liberation Serif', 'Times New Roman', serif" font-weight='700' font-size='36'>b</text>
<text transform='translate(740.47,294.1) scale(1,0.9700)' font-family="'Liberation Serif', 'Times New Roman', serif" font-weight='700' font-size='36'>bE</text>
<text transform='translate(85,742.8) rotate(-90) scale(0.9915,1.0475)' x='-3' y='0' font-family="'Liberation Sans', Arial, sans-serif" font-weight='700' font-size='43'>Bifidobacterium (10<tspan font-size='32' font-weight='400' dy='-20'>8</tspan><tspan dy='20'> CFU/g)</tspan></text>
<text transform='translate(897.6,48.5) scale(0.9417,1.0126)' font-family="'Liberation Sans', Arial, sans-serif" font-weight='700' font-size='52'>B</text>
<text transform='translate(998.7,140.53)' font-family="'Liberation Serif', 'Times New Roman', serif" font-weight='700' font-size='37'>36</text>
<text transform='translate(998.95,254.32)' font-family="'Liberation Serif', 'Times New Roman', serif" font-weight='700' font-size='37'>18</text>
<text transform='translate(989.45,508.4)' font-family="'Liberation Serif', 'Times New Roman', serif" font-weight='700' font-size='37'>0.6</text>
<text transform='translate(989.7,665)' font-family="'Liberation Serif', 'Times New Roman', serif" font-weight='700' font-size='37'>0.3</text>
<text transform='translate(989.95,820.7)' font-family="'Liberation Serif', 'Times New Roman', serif" font-weight='700' font-size='37'>0.0</text>
<text transform='translate(1109.33,874.2)' font-family="'Liberation Sans', Arial, sans-serif" font-weight='700' font-size='40'>CN</text>
<text transform='translate(1197.25,874.2)' font-family="'Liberation Sans', Arial, sans-serif" font-weight='700' font-size='40'>NR</text>
<text transform='translate(1281.35,874.2)' font-family="'Liberation Sans', Arial, sans-serif" font-weight='700' font-size='40'>SW</text>
<text transform='translate(1373.58,874.2)' font-family="'Liberation Sans', Arial, sans-serif" font-weight='700' font-size='40'>SH</text>
<text transform='translate(1459.85,874.2)' font-family="'Liberation Sans', Arial, sans-serif" font-weight='700' font-size='40'>SM</text>
<text transform='translate(1551.67,874.2)' font-family="'Liberation Sans', Arial, sans-serif" font-weight='700' font-size='40'>SL</text>
<text transform='translate(1638.38,874.2)' font-family="'Liberation Sans', Arial, sans-serif" font-weight='700' font-size='40'>SP</text>
<text transform='translate(1337.95,923.65)' font-family="'Liberation Sans', Arial, sans-serif" font-weight='700' font-size='42.7'>Group</text>
<text transform='translate(1440.7,235.8) scale(1,0.9700)' font-family="'Liberation Serif', 'Times New Roman', serif" font-weight='700' font-size='36'>ABCD</text>
<text transform='translate(1515.9,140.2) scale(1,0.9700)' font-family="'Liberation Serif', 'Times New Roman', serif" font-weight='700' font-size='36'>ABCDE</text>
<text transform='translate(1646.53,335) scale(1,0.9700)' font-family="'Liberation Serif', 'Times New Roman', serif" font-weight='700' font-size='36'>EF</text>
<text transform='translate(974.7,718.1) rotate(-90) scale(0.9735,1.0441)' x='-3' y='0' font-family="'Liberation Sans', Arial, sans-serif" font-weight='700' font-size='43'>Lactobacillus(10<tspan font-size='32' font-weight='400' dy='-20'>9</tspan><tspan dy='20'> CFU/g)</tspan></text>
<text transform='translate(12.51,965.49) scale(0.9274,1.0204)' font-family="'Liberation Sans', Arial, sans-serif" font-weight='700' font-size='52'>C</text>
<text transform='translate(89.25,1032.9)' font-family="'Liberation Sans', Arial, sans-serif" font-weight='700' font-size='39'>40</text>
<text transform='translate(89.25,1176.4)' font-family="'Liberation Sans', Arial, sans-serif" font-weight='700' font-size='39'>20</text>
<text transform='translate(78.5,1426)' font-family="'Liberation Sans', Arial, sans-serif" font-weight='700' font-size='39'>1.0</text>
<text transform='translate(78,1567.3)' font-family="'Liberation Sans', Arial, sans-serif" font-weight='700' font-size='39'>0.5</text>
<text transform='translate(78.5,1709)' font-family="'Liberation Sans', Arial, sans-serif" font-weight='700' font-size='39'>0.0</text>
<text transform='translate(208.03,1756) scale(1,1.0550)' font-family="'Liberation Serif', 'Times New Roman', serif" font-weight='700' font-size='35.6'>CN</text>
<text transform='translate(295.85,1756) scale(1,1.0550)' font-family="'Liberation Serif', 'Times New Roman', serif" font-weight='700' font-size='35.6'>NR</text>
<text transform='translate(381.12,1756) scale(1,1.0550)' font-family="'Liberation Serif', 'Times New Roman', serif" font-weight='700' font-size='35.6'>SW</text>
<text transform='translate(472.7,1756) scale(1,1.0550)' font-family="'Liberation Serif', 'Times New Roman', serif" font-weight='700' font-size='35.6'>SH</text>
<text transform='translate(556.85,1756) scale(1,1.0550)' font-family="'Liberation Serif', 'Times New Roman', serif" font-weight='700' font-size='35.6'>SM</text>
<text transform='translate(648.8,1756) scale(1,1.0550)' font-family="'Liberation Serif', 'Times New Roman', serif" font-weight='700' font-size='35.6'>SL</text>
<text transform='translate(737.85,1756) scale(1,1.0550)' font-family="'Liberation Serif', 'Times New Roman', serif" font-weight='700' font-size='35.6'>SP</text>
<text transform='translate(443.4,1805.16) scale(1,1.0400)' font-family="'Liberation Serif', 'Times New Roman', serif" font-weight='700' font-size='42.1'>Group</text>
<text transform='translate(308.55,1173.2) scale(1,0.9700)' font-family="'Liberation Serif', 'Times New Roman', serif" font-weight='700' font-size='36'>A</text>
<text transform='translate(396.2,1571.4) scale(1,0.9700)' font-family="'Liberation Serif', 'Times New Roman', serif" font-weight='700' font-size='36'>B</text>
<text transform='translate(486.85,1567.6) scale(1,0.9700)' font-family="'Liberation Serif', 'Times New Roman', serif" font-weight='700' font-size='36'>B</text>
<text transform='translate(572.9,1377.7) scale(1,0.9700)' font-family="'Liberation Serif', 'Times New Roman', serif" font-weight='700' font-size='36'>B</text>
<text transform='translate(603.7,1034.9) scale(1,0.9700)' font-family="'Liberation Serif', 'Times New Roman', serif" font-weight='700' font-size='36'>ABCDE</text>
<text transform='translate(683.3,1234.5) scale(1,0.9700)' font-family="'Liberation Serif', 'Times New Roman', serif" font-weight='700' font-size='36'>ABCDEF</text>
<text transform='translate(66,1545.9) rotate(-90) scale(0.9714,1.0169)' x='-3' y='0' font-family="'Liberation Sans', Arial, sans-serif" font-weight='700' font-size='43'>Bacteria(10<tspan font-size='32' font-weight='400' dy='-20'>6</tspan><tspan dy='20'> CFU/g)</tspan></text>
<text transform='translate(898.66,965.9) scale(0.9543,1.0126)' font-family="'Liberation Sans', Arial, sans-serif" font-weight='700' font-size='52'>D</text>
<text transform='translate(1018.8,1709)' font-family="'Liberation Sans', Arial, sans-serif" font-weight='700' font-size='39'>0</text>
<text transform='translate(1018.3,1572.75)' font-family="'Liberation Sans', Arial, sans-serif" font-weight='700' font-size='39'>5</text>
<text transform='translate(997.05,1437)' font-family="'Liberation Sans', Arial, sans-serif" font-weight='700' font-size='39'>10</text>
<text transform='translate(996.55,1300.75)' font-family="'Liberation Sans', Arial, sans-serif" font-weight='700' font-size='39'>15</text>
<text transform='translate(997.05,1165)' font-family="'Liberation Sans', Arial, sans-serif" font-weight='700' font-size='39'>20</text>
<text transform='translate(996.55,1029)' font-family="'Liberation Sans', Arial, sans-serif" font-weight='700' font-size='39'>25</text>
<text transform='translate(1113.42,1760.3)' font-family="'Liberation Sans', Arial, sans-serif" font-weight='700' font-size='40'>CN</text>
<text transform='translate(1201.55,1760.3)' font-family="'Liberation Sans', Arial, sans-serif" font-weight='700' font-size='40'>NR</text>
<text transform='translate(1286.75,1760.3)' font-family="'Liberation Sans', Arial, sans-serif" font-weight='700' font-size='40'>SW</text>
<text transform='translate(1380.08,1760.3)' font-family="'Liberation Sans', Arial, sans-serif" font-weight='700' font-size='40'>SH</text>
<text transform='translate(1466.65,1760.3)' font-family="'Liberation Sans', Arial, sans-serif" font-weight='700' font-size='40'>SM</text>
<text transform='translate(1559.08,1760.3)' font-family="'Liberation Sans', Arial, sans-serif" font-weight='700' font-size='40'>SL</text>
<text transform='translate(1645.88,1760.3)' font-family="'Liberation Sans', Arial, sans-serif" font-weight='700' font-size='40'>SP</text>
<text transform='translate(1343.15,1813.65)' font-family="'Liberation Sans', Arial, sans-serif" font-weight='700' font-size='42.7'>Group</text>
<text transform='translate(1220.75,1056.3) scale(1,0.9700)' font-family="'Liberation Serif', 'Times New Roman', serif" font-weight='700' font-size='36'>A</text>
<text transform='translate(1308.83,1056.4) scale(1,0.9700)' font-family="'Liberation Serif', 'Times New Roman', serif" font-weight='700' font-size='36'>a</text>
<text transform='translate(1379.55,1435.7) scale(1,0.9700)' font-family="'Liberation Serif', 'Times New Roman', serif" font-weight='700' font-size='36'>B<tspan dx='2.7'>C</tspan></text>
<text transform='translate(1471.95,1373.5) scale(1,0.9700)' font-family="'Liberation Serif', 'Times New Roman', serif" font-weight='700' font-size='36'>B<tspan dx='2.7'>C</tspan></text>
<text transform='translate(1545.55,1088.6) scale(1,0.9700)' font-family="'Liberation Serif', 'Times New Roman', serif" font-weight='700' font-size='36'>ADE</text>
<text transform='translate(1636.05,1056.4) scale(1,0.9700)' font-family="'Liberation Serif', 'Times New Roman', serif" font-weight='700' font-size='36'>ADE</text>
<text transform='translate(973.2,1628.6) rotate(-90) scale(0.9773,1.0373)' x='-3' y='0' font-family="'Liberation Sans', Arial, sans-serif" font-weight='700' font-size='43'>Escherichia coli(10<tspan font-size='32' font-weight='400' dy='-20'>5</tspan><tspan dy='20'> CFU/g)</tspan></text>
<text transform='translate(1863.05,1112)' font-family="'Liberation Sans', Arial, sans-serif" font-weight='700' font-size='40'>CN</text>
<text transform='translate(1863.45,1155.65)' font-family="'Liberation Sans', Arial, sans-serif" font-weight='700' font-size='40'>NR</text>
<text transform='translate(1863.55,1199.3)' font-family="'Liberation Sans', Arial, sans-serif" font-weight='700' font-size='40'>SW</text>
<text transform='translate(1863.55,1242.95)' font-family="'Liberation Sans', Arial, sans-serif" font-weight='700' font-size='40'>SH</text>
<text transform='translate(1863.55,1286.6)' font-family="'Liberation Sans', Arial, sans-serif" font-weight='700' font-size='40'>SM</text>
<text transform='translate(1863.55,1330.25)' font-family="'Liberation Sans', Arial, sans-serif" font-weight='700' font-size='40'>SL</text>
<text transform='translate(1863.55,1373.9)' font-family="'Liberation Sans', Arial, sans-serif" font-weight='700' font-size='40'>SP</text></svg></body></html>
